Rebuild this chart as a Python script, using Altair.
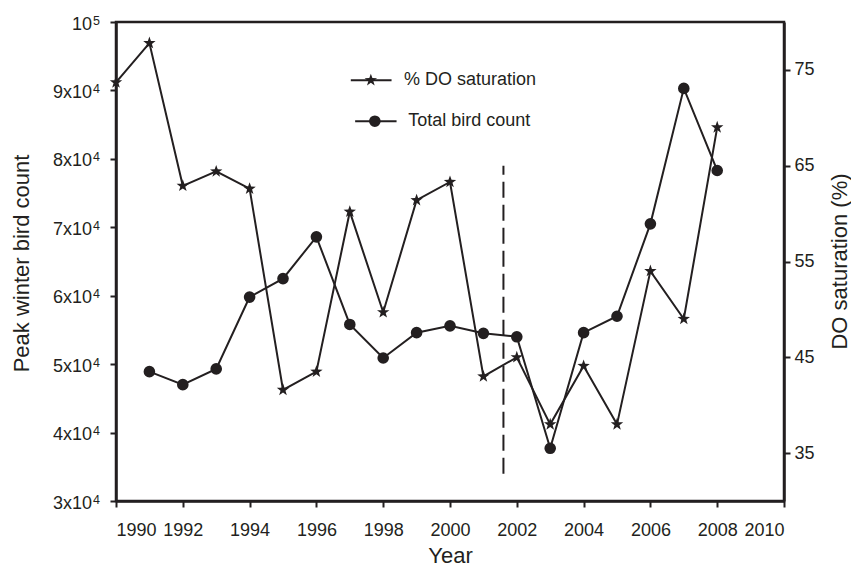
import altair as alt
import pandas as pd

# ---------------- data ----------------
years_do = list(range(1990, 2009))
do_saturation = [73.7, 77.8, 62.9, 64.4, 62.6, 41.6, 43.5, 60.2, 49.7, 61.4,
                 63.3, 43.0, 45.0, 38.0, 44.1, 38.0, 54.0, 49.0, 69.0]

years_bird = list(range(1991, 2009))
bird_count = [48900, 47000, 49300, 59800, 62500, 68600, 55800, 50900, 54600,
              55600, 54500, 54000, 37700, 54600, 57000, 70500, 90300, 78300]

x_ticks = list(range(1990, 2011, 2))
bird_ticks = [30000, 40000, 50000, 60000, 70000, 80000, 90000, 100000]
bird_tick_main = ["3x10", "4x10", "5x10", "6x10", "7x10", "8x10", "9x10", "10"]
bird_tick_exp = ["4", "4", "4", "4", "4", "4", "4", "5"]
do_ticks = [35, 45, 55, 65, 75]

divider_year = [2001.6]
divider_from = [34000]
divider_to = [79000]

legend_labels = ["% DO saturation", "Total bird count"]

# ---------------- styling / layout ----------------
INK = "#231f20"
FONT = "Liberation Sans"
STAR = ("M0,-1 L0.235,-0.324 L0.951,-0.309 L0.380,0.124 L0.588,0.809 "
        "L0,0.4 L-0.588,0.809 L-0.380,0.124 L-0.951,-0.309 L-0.235,-0.324 Z")

# legend anchor (in data space of year / bird count)
leg_y = [91500, 85500]
leg_x0 = [1997.03, 1997.16]
leg_x1 = [1998.25, 1998.40]
leg_sym = [1997.63, 1997.75]
leg_txt = [1998.62, 1998.75]

bird_df = pd.DataFrame({"year": years_bird, "val": bird_count})
do_df = pd.DataFrame({"year": years_do, "val": do_saturation})
div_df = pd.DataFrame({"year": divider_year, "lo": divider_from, "hi": divider_to})
lab_df = pd.DataFrame({"val": bird_ticks, "main": bird_tick_main, "exp": bird_tick_exp})
leg_df = pd.DataFrame({"label": legend_labels, "val": leg_y, "x0": leg_x0,
                       "x1": leg_x1, "sym": leg_sym, "txt": leg_txt})

x_scale = alt.Scale(domain=[1990, 2010], nice=False, zero=False)
x_axis = alt.Axis(values=x_ticks, format="d", title="Year", labelPadding=14,
                  titleY=61, titleBaseline="alphabetic")

bird_scale = alt.Scale(domain=[30000, 100000], nice=False, zero=False)
bird_axis = alt.Axis(values=bird_ticks, labels=False, title="Peak winter bird count",
                     titleAngle=270, titleX=-88, titleY=241,
                     titleBaseline="alphabetic")

do_scale = alt.Scale(domain=[30, 80], nice=False, zero=False)
do_axis = alt.Axis(orient="right", values=do_ticks, title="DO saturation (%)",
                   labelPadding=4, titleAngle=270, titleX=62, titleY=239,
                   titleBaseline="alphabetic")


def X(field):
    return alt.X(f"{field}:Q", scale=x_scale, axis=x_axis)


def YB(field="val"):
    return alt.Y(f"{field}:Q", scale=bird_scale, axis=bird_axis)


bird_line = alt.Chart(bird_df).mark_line(color=INK, strokeWidth=2).encode(
    x=X("year"), y=YB())
bird_pts = alt.Chart(bird_df).mark_point(shape="circle", filled=True, size=135,
                                         color=INK, opacity=1).encode(
    x=X("year"), y=YB())

divider = alt.Chart(div_df).mark_rule(color=INK, strokeWidth=2,
                                      strokeDash=[16, 7]).encode(
    x=X("year"), y=YB("lo"), y2="hi:Q")

leg_lines = alt.Chart(leg_df).mark_rule(color=INK, strokeWidth=2).encode(
    x=X("x0"), x2="x1:Q", y=YB())
leg_star = alt.Chart(leg_df.iloc[[0]]).mark_point(shape=STAR, filled=True, size=170,
                                                   color=INK, opacity=1).encode(
    x=X("sym"), y=YB())
leg_dot = alt.Chart(leg_df.iloc[[1]]).mark_point(shape="circle", filled=True, size=135,
                                                  color=INK, opacity=1).encode(
    x=X("sym"), y=YB())
leg_text = alt.Chart(leg_df).mark_text(align="left", baseline="middle", fontSize=18,
                                       color=INK, font=FONT).encode(
    x=X("txt"), y=YB(), text="label:N")

lab_main = alt.Chart(lab_df).mark_text(align="right", baseline="middle", fontSize=18,
                                       color=INK, font=FONT, dy=2.5).encode(
    x=alt.value(-24), y=YB(), text="main:N")
lab_exp = alt.Chart(lab_df).mark_text(align="left", baseline="middle", fontSize=12.5,
                                      color=INK, font=FONT, dy=-1.5).encode(
    x=alt.value(-23), y=YB(), text="exp:N")

bird_group = alt.layer(bird_line, bird_pts, divider, leg_lines, leg_star, leg_dot,
                       leg_text, lab_main, lab_exp)

do_line = alt.Chart(do_df).mark_line(color=INK, strokeWidth=2).encode(
    x=X("year"), y=alt.Y("val:Q", scale=do_scale, axis=do_axis))
do_pts = alt.Chart(do_df).mark_point(shape=STAR, filled=True, size=170, color=INK,
                                     opacity=1).encode(
    x=X("year"), y=alt.Y("val:Q", scale=do_scale, axis=do_axis))
do_group = alt.layer(do_line, do_pts)

chart = alt.layer(bird_group, do_group).resolve_scale(y="independent").properties(
    width=668, height=479,
    padding={"left": 108, "top": 14, "right": 67, "bottom": 67},
    autosize=alt.AutoSizeParams(type="none"),
).configure(font=FONT).configure_view(
    stroke=INK, strokeWidth=2.5
).configure_axis(
    grid=False, domainColor=INK, domainWidth=2.5, tickColor=INK, tickWidth=2,
    tickSize=6, labelColor=INK, labelFontSize=18, labelFont=FONT,
    titleColor=INK, titleFontSize=22, titleFontWeight="normal", titleFont=FONT,
)

chart.save("out.html", embed_options={"renderer": "svg", "actions": False})
